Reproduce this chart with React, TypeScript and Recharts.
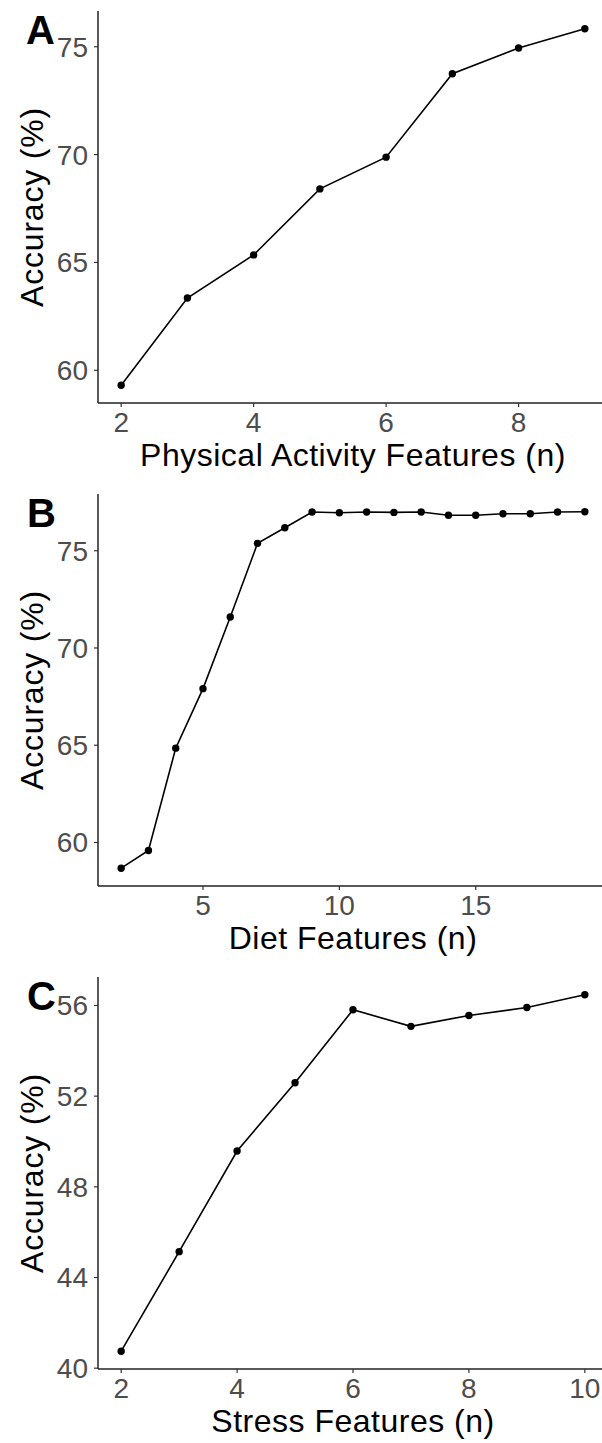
import React from "react";
import { LineChart, Line, XAxis, YAxis } from "recharts";

// panel A - physical activity
const paFeatures = [2, 3, 4, 5, 6, 7, 8, 9];
const paAccuracy = [59.31, 63.35, 65.35, 68.41, 69.88, 73.75, 74.94, 75.83];
const paXTicks = [2, 4, 6, 8];
const paYTicks = [60, 65, 70, 75];

// panel B - diet
const dietFeatures = [2, 3, 4, 5, 6, 7, 8, 9, 10, 11, 12, 13, 14, 15, 16, 17, 18, 19];
const dietAccuracy = [
  58.68, 59.59, 64.85, 67.91, 71.59, 75.38, 76.18, 76.99, 76.95, 76.99, 76.97, 76.99, 76.82,
  76.82, 76.9, 76.9, 76.99, 77.0,
];
const dietXTicks = [5, 10, 15];
const dietYTicks = [60, 65, 70, 75];

// panel C - stress
const stressFeatures = [2, 3, 4, 5, 6, 7, 8, 9, 10];
const stressAccuracy = [40.75, 45.14, 49.58, 52.59, 55.81, 55.08, 55.56, 55.91, 56.47];
const stressXTicks = [2, 4, 6, 8, 10];
const stressYTicks = [40, 44, 48, 52, 56];

const FONT = "'Liberation Sans', Arial, Helvetica, sans-serif";

// ggplot style 5% expansion
function expand(min: number, max: number): [number, number] {
  const pad = (max - min) * 0.05;
  return [min - pad, max + pad];
}

type PanelProps = {
  letter: string;
  top: number;
  xs: number[];
  ys: number[];
  xTicks: number[];
  yTicks: number[];
  xTitle: string;
};

function Panel({ letter, top, xs, ys, xTicks, yTicks, xTitle }: PanelProps) {
  const data = xs.map((n, i) => ({ n, acc: ys[i] }));
  const xDomain = expand(Math.min(...xs), Math.max(...xs));
  const yDomain = expand(Math.min(...ys), Math.max(...ys));

  return (
    <div style={{ position: "absolute", left: 0, top, width: 602, height: 483, overflow: "hidden" }}>
      <LineChart
        width={620}
        height={483}
        data={data}
        margin={{ top: 11, right: 12, bottom: 0, left: 0 }}
      >
        <XAxis
          dataKey="n"
          type="number"
          domain={xDomain}
          ticks={xTicks}
          allowDataOverflow
          height={80}
          stroke="#222"
          strokeWidth={1.5}
          tickSize={4}
          tickMargin={5}
          tick={{ fill: "#4D4D4D", fontSize: 28, fontFamily: FONT }}
          tickLine={{ stroke: "#333", strokeWidth: 1.2 }}
          label={{
            value: xTitle,
            position: "insideBottom",
            offset: 17,
            fill: "#000",
            fontSize: 32,
            fontFamily: FONT,
            style: { letterSpacing: "0.5px" },
          }}
        />
        <YAxis
          type="number"
          domain={yDomain}
          ticks={yTicks}
          allowDataOverflow
          width={98}
          stroke="#222"
          strokeWidth={1.5}
          tickSize={4}
          tickMargin={6}
          tick={{ fill: "#4D4D4D", fontSize: 28, fontFamily: FONT }}
          tickLine={{ stroke: "#333", strokeWidth: 1.2 }}
          label={{
            value: "Accuracy (%)",
            angle: -90,
            position: "insideLeft",
            offset: 32,
            textAnchor: "middle",
            fill: "#000",
            fontSize: 32,
            fontFamily: FONT,
            style: { letterSpacing: "0.8px" },
          }}
        />
        <Line
          dataKey="acc"
          stroke="#000"
          strokeWidth={1.6}
          dot={{ r: 3.7, fill: "#000", stroke: "none" }}
          isAnimationActive={false}
        />
      </LineChart>
      <div
        style={{
          position: "absolute",
          left: letter === "A" ? 26 : 27,
          top: 10,
          fontFamily: FONT,
          fontWeight: "bold",
          fontSize: 40,
          lineHeight: "40px",
          color: "#000",
        }}
      >
        {letter}
      </div>
    </div>
  );
}

export default function App() {
  return (
    <div style={{ position: "absolute", left: 0, top: 0, width: 602, height: 1443, overflow: "hidden", background: "#fff" }}>
      <Panel letter="A" top={0} xs={paFeatures} ys={paAccuracy} xTicks={paXTicks} yTicks={paYTicks} xTitle="Physical Activity Features (n)" />
      <Panel letter="B" top={483} xs={dietFeatures} ys={dietAccuracy} xTicks={dietXTicks} yTicks={dietYTicks} xTitle="Diet Features (n)" />
      <Panel letter="C" top={966} xs={stressFeatures} ys={stressAccuracy} xTicks={stressXTicks} yTicks={stressYTicks} xTitle="Stress Features (n)" />
    </div>
  );
}
